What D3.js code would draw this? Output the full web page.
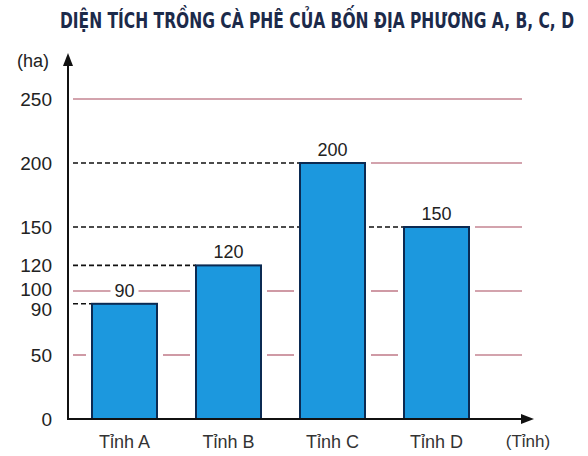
<!DOCTYPE html>
<html><head><meta charset="utf-8">
<script src="https://cdn.jsdelivr.net/npm/d3@7"></script>
<style>body{margin:0;background:#fff;}</style>
</head><body>
<svg id="c" width="588" height="456"></svg>
<script>
const categories = ["Tỉnh A", "Tỉnh B", "Tỉnh C", "Tỉnh D"];
const values = [90, 120, 200, 150];
const tickValues = [0, 50, 90, 100, 120, 150, 200, 250];
const gridValues = [50, 100, 150, 200, 250];
const title = "DIỆN TÍCH TRỒNG CÀ PHÊ CỦA BỐN ĐỊA PHƯƠNG A, B, C, D";
const yUnit = "(ha)";
const xUnit = "(Tỉnh)";

const svg = d3.select("#c");
const axisX = 68, baseY = 419, gridEnd = 522;
const y = d3.scaleLinear().domain([0, 250]).range([baseY, 99]);
const xb = d3.scaleBand().domain(categories).range([92, 469]).paddingInner(0.375).paddingOuter(0);
const bx = c => xb(c), bw = xb.bandwidth();

// title
svg.append("text").attr("x", 60).attr("y", 28)
  .attr("font-family", "'Liberation Sans Narrow','DejaVu Sans Condensed',sans-serif")
  .attr("font-weight", "bold").attr("font-size", 22).attr("fill", "#1c2a4a")
  .attr("textLength", 514).attr("lengthAdjust", "spacingAndGlyphs").text(title);

// red grid segments in gaps
const red = "#a8485c";
gridValues.forEach(v => {
  const gy = y(v);
  const segs = [];
  let start = axisX + 5;
  categories.forEach((c, i) => {
    if (values[i] >= v) {
      segs.push([start, bx(c) - 6]);
      start = bx(c) + bw + 6;
    }
  });
  segs.push([start, gridEnd]);
  const idx = values.indexOf(v);
  segs.forEach(s => {
    if (idx >= 0 && s[1] <= bx(categories[idx])) return;
    if (s[1] - s[0] < 2) return;
    svg.append("line").attr("x1", s[0]).attr("x2", s[1]).attr("y1", gy).attr("y2", gy)
      .attr("stroke", red).attr("stroke-width", 1.1);
  });
});

// black dashed reference lines from axis to bar
categories.forEach((c, i) => {
  svg.append("line").attr("x1", axisX + 5).attr("x2", bx(c)).attr("y1", y(values[i])).attr("y2", y(values[i]))
    .attr("stroke", "#111").attr("stroke-width", 1.6).attr("stroke-dasharray", "5,3");
});

// bars
svg.selectAll("rect.bar").data(values).enter().append("rect")
  .attr("x", (d, i) => bx(categories[i])).attr("y", d => y(d))
  .attr("width", bw).attr("height", d => baseY - y(d))
  .attr("fill", "#1c98de").attr("stroke", "#0b2a52").attr("stroke-width", 2);

// value labels with white backing
categories.forEach((c, i) => {
  const t = svg.append("text").attr("x", bx(c) + bw / 2).attr("y", y(values[i]) - 7)
    .attr("text-anchor", "middle").attr("font-family", "Liberation Sans, Arial, sans-serif")
    .attr("font-size", 18).attr("fill", "#222").text(values[i]);
  const bb = t.node().getBBox();
  svg.insert("rect", "text:last-child").attr("x", bb.x - 4).attr("y", bb.y + 2).attr("width", bb.width + 8).attr("height", bb.height - 3).attr("fill", "#fff");
});
svg.selectAll("text").raise();

// axes
const yAxis = d3.axisLeft(y).tickValues(tickValues).tickSize(0).tickPadding(16);
const gY = svg.append("g").attr("transform", `translate(${axisX},0)`).call(yAxis);
gY.select(".domain").remove();
gY.selectAll("text").attr("font-family", "Liberation Sans, Arial, sans-serif").attr("font-size", 19).attr("fill", "#222");
gY.selectAll(".tick").filter(d => d === 90).select("text").attr("dy", "0.62em");
gY.selectAll(".tick").filter(d => d === 100).select("text").attr("dy", "0.25em");

svg.append("line").attr("x1", axisX).attr("x2", axisX).attr("y1", baseY + 1).attr("y2", 62).attr("stroke", "#111").attr("stroke-width", 2);
svg.append("path").attr("d", `M${axisX},53 L${axisX - 5},66 L${axisX + 5},66 Z`).attr("fill", "#111");
svg.append("line").attr("x1", axisX).attr("x2", 526).attr("y1", baseY).attr("y2", baseY).attr("stroke", "#111").attr("stroke-width", 2);
svg.append("path").attr("d", `M534,${baseY} L521,${baseY - 5} L521,${baseY + 5} Z`).attr("fill", "#111");

const xAxis = d3.axisBottom(xb).tickSize(0).tickPadding(16);
const gX = svg.append("g").attr("transform", `translate(0,${baseY})`).call(xAxis);
gX.select(".domain").remove();
gX.selectAll("text").attr("font-family", "Liberation Sans, Arial, sans-serif").attr("font-size", 18).attr("fill", "#333");

svg.append("text").attr("x", 528).attr("y", 447).attr("text-anchor", "middle")
  .attr("font-family", "Liberation Sans, Arial, sans-serif").attr("font-size", 17).attr("fill", "#333").text(xUnit);
svg.append("text").attr("x", 33).attr("y", 67).attr("text-anchor", "middle")
  .attr("font-family", "Liberation Sans, Arial, sans-serif").attr("font-size", 18).attr("fill", "#222").text(yUnit);
</script>
</body></html>
